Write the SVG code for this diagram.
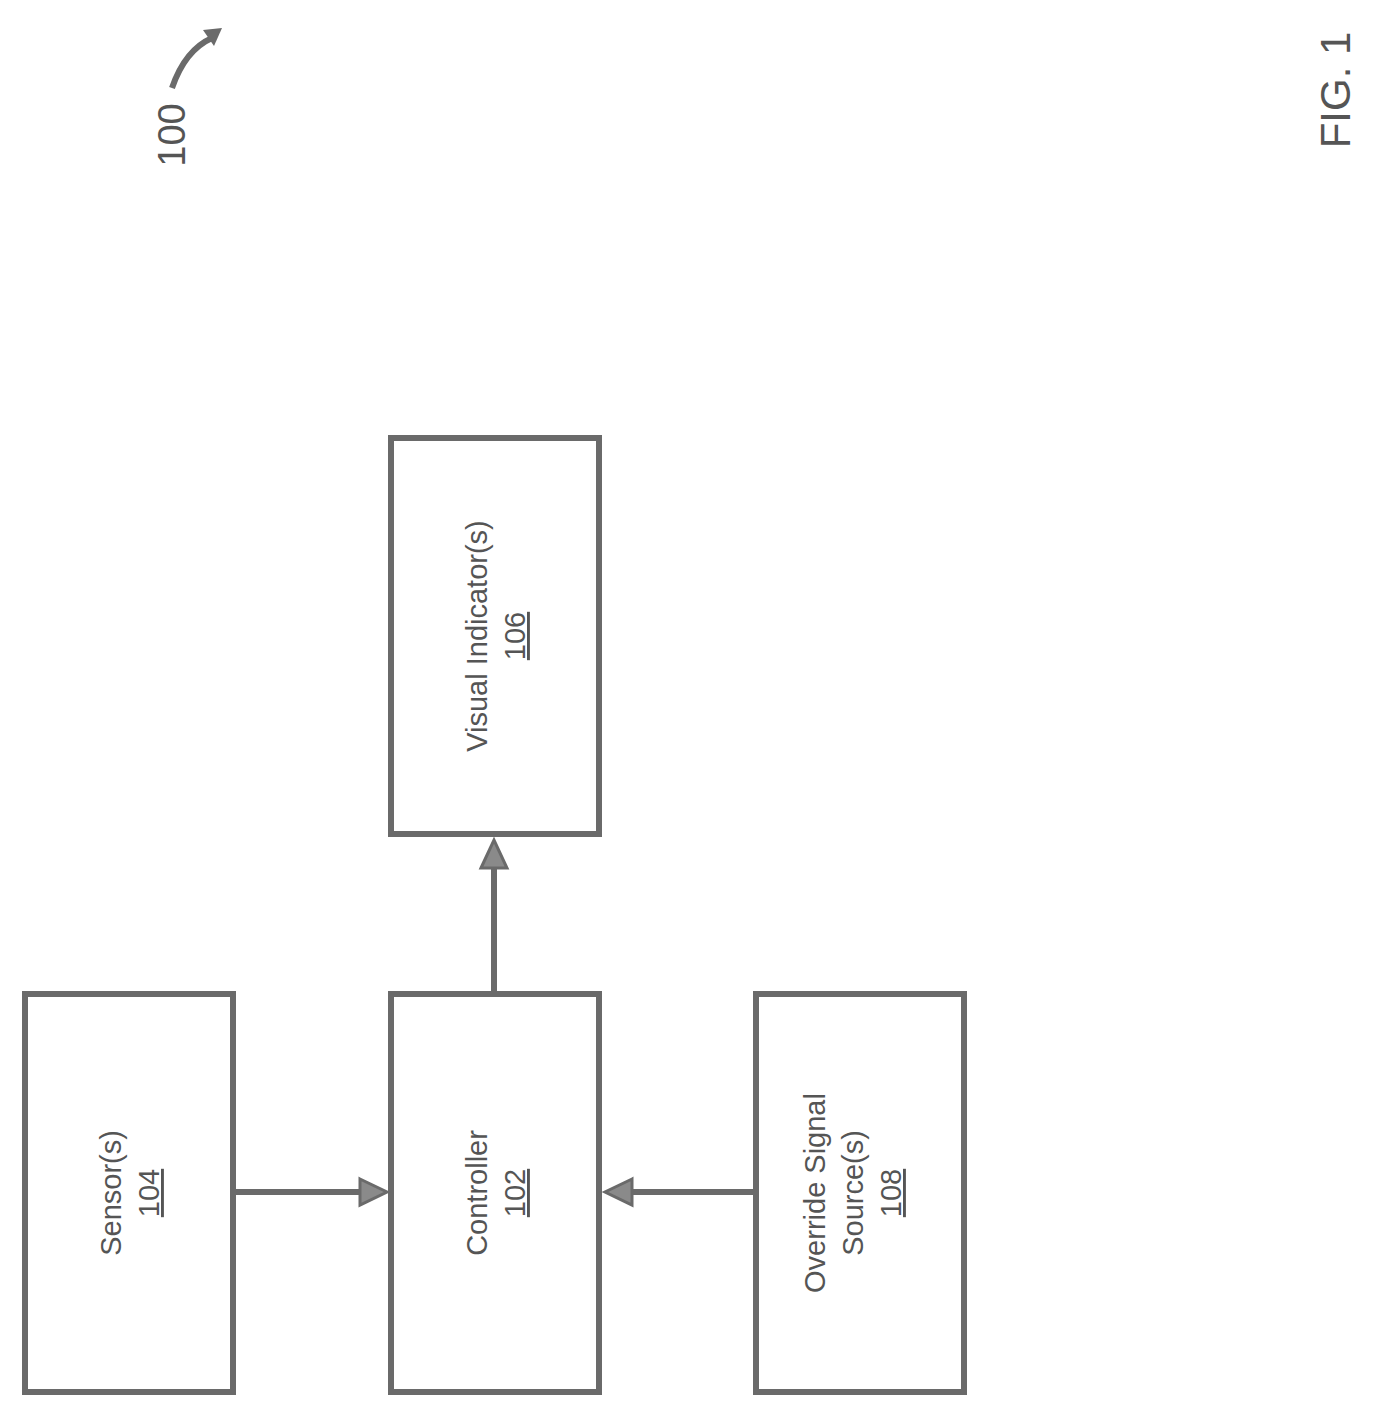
<svg xmlns="http://www.w3.org/2000/svg" width="1374" height="1416" viewBox="0 0 1374 1416">
<style>
.box{fill:#fff;stroke:#6a6a6a;stroke-width:6}
.t{font-family:"Liberation Sans",Arial,sans-serif;font-size:29px;fill:#555;text-anchor:middle}
.u{text-decoration:underline}
.c{stroke:#6a6a6a;stroke-width:6;fill:none}
.ah{fill:#8a8a8a;stroke:#6a6a6a;stroke-width:3}
</style>
<rect width="1374" height="1416" fill="#fff"/>
<g id="sensor">
<rect class="box" x="25" y="994" width="208" height="398"/>
<g transform="translate(129,1193) rotate(-90)"><text class="t" y="-8">Sensor(s)</text><text class="t u" y="30">104</text></g>
</g>
<g id="controller">
<rect class="box" x="391" y="994" width="208" height="398"/>
<g transform="translate(495,1193) rotate(-90)"><text class="t" y="-8">Controller</text><text class="t u" y="30">102</text></g>
</g>
<g id="override">
<rect class="box" x="756" y="994" width="208" height="398"/>
<g transform="translate(860,1193) rotate(-90)"><text class="t" y="-35">Override Signal</text><text class="t" y="3">Source(s)</text><text class="t u" y="41">108</text></g>
</g>
<g id="visual">
<rect class="box" x="391" y="438" width="208" height="396"/>
<g transform="translate(495,636) rotate(-90)"><text class="t" y="-8">Visual Indicator(s)</text><text class="t u" y="30">106</text></g>
</g>
<g id="connectors">
<path class="c" d="M233,1192 H362"/>
<path class="ah" d="M360,1179 L387,1192 L360,1205 Z"/>
<path class="c" d="M756,1192 H630"/>
<path class="ah" d="M632,1179 L605,1192 L632,1205 Z"/>
<path class="c" d="M494,994 V866"/>
<path class="ah" d="M481,868 L494,840 L507,868 Z"/>
<path class="c" d="M172,88 Q185,50 212,38" stroke-width="4"/>
<path d="M203,30 L222,28 L214,46 Z" fill="#6a6a6a"/>
</g>
<g id="labels">
<text class="t" style="font-size:38px" transform="translate(185,135) rotate(-90)">100</text>
<text class="t" style="font-size:42px" transform="translate(1350,90) rotate(-90)">FIG. 1</text>
</g>
</svg>
